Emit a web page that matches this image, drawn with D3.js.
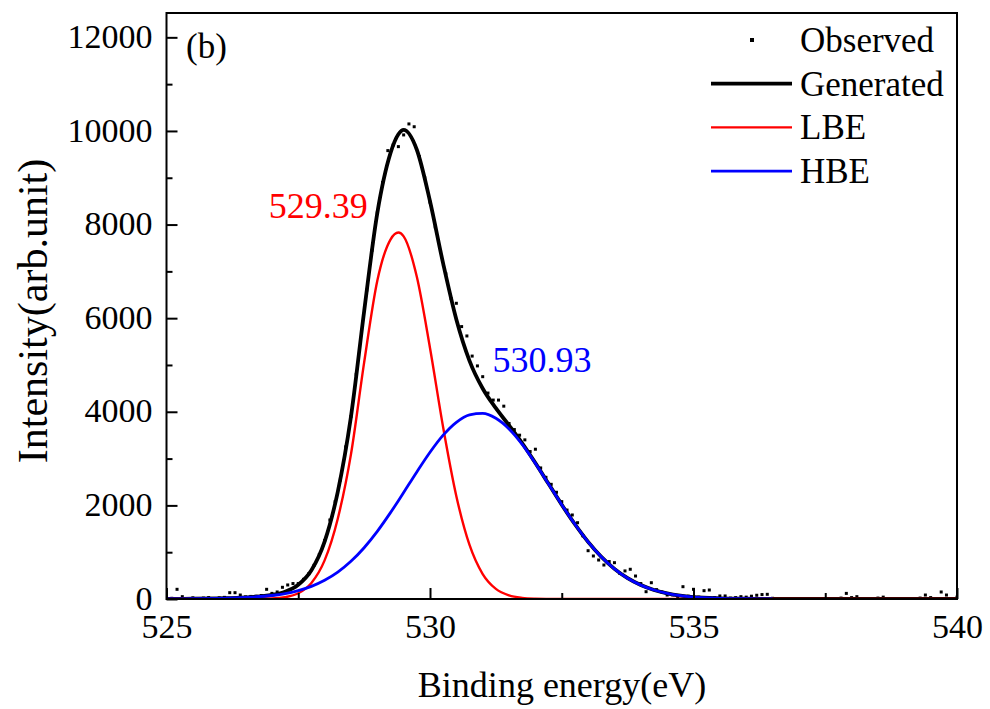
<!DOCTYPE html>
<html>
<head>
<meta charset="utf-8">
<script src="https://cdn.jsdelivr.net/npm/d3@7/dist/d3.min.js"></script>
<style>
  body { margin: 0; background: #fff; }
  svg text { font-family: "Liberation Serif", "Times New Roman", serif; }
</style>
</head>
<body>
<div id="chart"></div>
<script>
// fitted components, sampled along binding energy (eV)
var fitEnergy = [525, 525.5, 526, 526.5, 527, 527.25, 527.5, 527.75, 528, 528.25, 528.5, 528.75,
    529, 529.25, 529.4, 529.5, 529.75, 530, 530.25, 530.5, 530.75, 531, 531.25, 531.5, 531.75,
    532, 532.25, 532.5, 532.75, 533, 533.25, 533.5, 533.75, 534, 534.25, 534.5, 534.75,
    535, 535.5, 536, 536.5, 537, 538, 539, 540];
var lbeValues = [0, 0, 0, 0, 11, 39, 124, 344, 825, 1716, 3090, 5050,
    6800, 7680, 7830, 7748, 6884, 5364, 3665, 2197, 1154, 532, 215, 76, 24,
    7, 2, 0, 0, 0, 0, 0, 0, 0, 0, 0, 0,
    0, 0, 0, 0, 0, 0, 0, 0];
var hbeValues = [2, 5, 15, 35, 75, 115, 180, 270, 400, 575, 805, 1095,
    1445, 1845, 2100, 2275, 2715, 3135, 3500, 3775, 3935, 3965, 3861, 3633, 3303,
    2898, 2458, 2014, 1597, 1221, 903, 644, 444, 297, 192, 118, 70,
    40, 14, 5, 1, null, null, null, null];
var generatedValues = [2, 5, 15, 35, 86, 154, 304, 614, 1225, 2291, 3895, 6145,
    8245, 9525, 9930, 10023, 9599, 8499, 7165, 5972, 5089, 4497, 4076, 3709, 3327,
    2905, 2460, 2014, 1597, 1221, 903, 644, 444, 297, 192, 118, 70,
    40, 14, 5, 1, 0, 0, 0, 0];

// measured spectrum, 0.1 eV steps from 525.0 to 540.0
var obsStart = 525, obsStep = 0.1;
var observedValues = [
    40, 15, 207, 50, 10, 25, 5, 20, 30, 10,
    25, 35, 135, 135, 85, 45, 55, 60, 75, 207,
    120, 150, 250, 300, 330, 330, 420, 540, 720, 950,
    1250, 1688, 2080, 2543, 3250, 3900, 4800, 5700, 6600, 7450,
    8250, 8900, 9580, 9700, 9665, 9915, 10150, 10090, 9450, 9000,
    8480, 7950, 7420, 6950, 6420, 6318, 5820, 5620, 5190, 4980,
    4750, 4400, 4250, 4250, 4120, 3750, 3620, 3500, 3400, 3150,
    3200, 2800, 2600, 2450, 2280, 2080, 1900, 1795, 1630, 1350,
    1032, 919, 833, 726, 800, 776, 549, 600, 635, 491,
    330, 156, 348, 200, 150, 85, 90, 50, 263, 60,
    207, 40, 178, 192, 30, 65, 65, 20, 30, 50,
    40, 60, 80, 95, 100, 15, 10, 5, 0, 10,
    5, 0, 10, 0, 5, 0, 10, 0, 20, 120,
    30, 50, 0, 10, 5, 20, 40, 5, 0, 10,
    5, 0, 10, 20, 85, 30, 10, 150, 85, 10,
    40];

var xTicksMajor = [525, 530, 535, 540];
var xTicksMinor = [527.5, 532.5, 537.5];
var yTicksMajor = [0, 2000, 4000, 6000, 8000, 10000, 12000];
var yTicksMinor = [1000, 3000, 5000, 7000, 9000, 11000];

var peakLabels = [
    {text: "529.39", energy: 529.39, color: "#ff0000"},
    {text: "530.93", energy: 530.93, color: "#0000ff"}
];
var legendItems = ["Observed", "Generated", "LBE", "HBE"];

var width = 990, height = 709;
var plot = {left: 166.5, right: 957, top: 13, bottom: 599};

var svg = d3.select("#chart").append("svg")
    .attr("width", width)
    .attr("height", height);

var xScale = d3.scaleLinear().domain([525, 540]).range([plot.left, plot.right]);
var yScale = d3.scaleLinear().domain([0, 12520]).range([plot.bottom, plot.top]);

var observed = observedValues.map(function (v, i) {
    return {x: +(obsStart + i * obsStep).toFixed(1), y: v};
});
function series(vals) {
    return fitEnergy.map(function (e, i) { return {x: e, y: vals[i]}; })
        .filter(function (d) { return d.y !== null; });
}

svg.append("defs").append("clipPath").attr("id", "clip")
    .append("rect")
    .attr("x", plot.left).attr("y", plot.top)
    .attr("width", plot.right - plot.left).attr("height", plot.bottom - plot.top);

var g = svg.append("g").attr("clip-path", "url(#clip)");

// observed points
g.selectAll(".obs")
    .data(observed)
    .enter().append("rect")
    .attr("class", "obs")
    .attr("x", function (d) { return xScale(d.x) - 1.5; })
    .attr("y", function (d) { return yScale(d.y) - 1.5; })
    .attr("width", 3)
    .attr("height", 3)
    .attr("fill", "#000");

var line = d3.line()
    .x(function (d) { return xScale(d.x); })
    .y(function (d) { return yScale(d.y); })
    .curve(d3.curveMonotoneX);

g.append("path").datum(series(generatedValues))
    .attr("d", line).attr("fill", "none")
    .attr("stroke", "#000").attr("stroke-width", 3.8);
g.append("path").datum(series(lbeValues))
    .attr("d", line).attr("fill", "none")
    .attr("stroke", "#ff0000").attr("stroke-width", 2.4);
g.append("path").datum(series(hbeValues))
    .attr("d", line).attr("fill", "none")
    .attr("stroke", "#0000ff").attr("stroke-width", 2.8);

// axes, ticks pointing inward
var xAxis = svg.append("g")
    .attr("transform", "translate(0," + plot.bottom + ")")
    .call(d3.axisBottom(xScale).tickValues(xTicksMajor).tickSizeInner(-11).tickSizeOuter(0)
        .tickPadding(11).tickFormat(d3.format("d")));
svg.append("g")
    .attr("transform", "translate(0," + plot.bottom + ")")
    .call(d3.axisBottom(xScale).tickValues(xTicksMinor).tickSizeInner(-6).tickSizeOuter(0)
        .tickFormat(""));
var yAxis = svg.append("g")
    .attr("transform", "translate(" + plot.left + ",0)")
    .call(d3.axisLeft(yScale).tickValues(yTicksMajor).tickSizeInner(-11).tickSizeOuter(0)
        .tickPadding(14).tickFormat(d3.format("d")));
svg.append("g")
    .attr("transform", "translate(" + plot.left + ",0)")
    .call(d3.axisLeft(yScale).tickValues(yTicksMinor).tickSizeInner(-6).tickSizeOuter(0)
        .tickFormat(""));

svg.selectAll(".domain").remove();
svg.selectAll(".tick line").attr("stroke", "#000").attr("stroke-width", 2);
svg.selectAll(".tick text")
    .attr("fill", "#000")
    .style("font-size", "34px")
    .style("font-family", "'Liberation Serif', serif");
xAxis.selectAll(".tick text").attr("dy", "0.82em");
yAxis.selectAll(".tick text").attr("dy", "0.3em");

svg.append("rect")
    .attr("x", plot.left).attr("y", plot.top)
    .attr("width", plot.right - plot.left).attr("height", plot.bottom - plot.top)
    .attr("fill", "none").attr("stroke", "#000").attr("stroke-width", 2);

// axis titles
svg.append("text")
    .attr("x", 562)
    .attr("y", 697)
    .attr("text-anchor", "middle")
    .style("font-size", "36px")
    .text("Binding energy(eV)");
svg.append("text")
    .attr("transform", "translate(47,311) rotate(-90)")
    .attr("text-anchor", "middle")
    .style("font-size", "42px")
    .text("Intensity(arb.unit)");

svg.append("text")
    .attr("x", 186).attr("y", 58)
    .style("font-size", "35px")
    .text("(b)");

// peak position labels
svg.append("text")
    .attr("x", xScale(peakLabels[0].energy) - 30)
    .attr("y", yScale(8130))
    .attr("text-anchor", "end")
    .attr("fill", peakLabels[0].color)
    .style("font-size", "36px")
    .text(peakLabels[0].text);
svg.append("text")
    .attr("x", xScale(peakLabels[1].energy) + 63)
    .attr("y", yScale(4860))
    .attr("text-anchor", "middle")
    .attr("fill", peakLabels[1].color)
    .style("font-size", "36px")
    .text(peakLabels[1].text);

// legend
var legend = svg.append("g").attr("transform", "translate(711,40)");
var rowH = 43.7;
var legendColors = ["#000", "#000", "#ff0000", "#0000ff"];
var legendWidths = [0, 3.8, 2.4, 2.8];
legendItems.forEach(function (name, i) {
    var row = legend.append("g").attr("transform", "translate(0," + (i * rowH) + ")");
    if (i === 0) {
        row.append("rect").attr("x", 39).attr("y", -2).attr("width", 4).attr("height", 4).attr("fill", "#000");
    } else {
        row.append("line").attr("x1", 0).attr("x2", 81).attr("y1", 0).attr("y2", 0)
            .attr("stroke", legendColors[i]).attr("stroke-width", legendWidths[i]);
    }
    row.append("text")
        .attr("x", 89)
        .attr("y", 12)
        .style("font-size", "35px")
        .text(name);
});
</script>
</body>
</html>
